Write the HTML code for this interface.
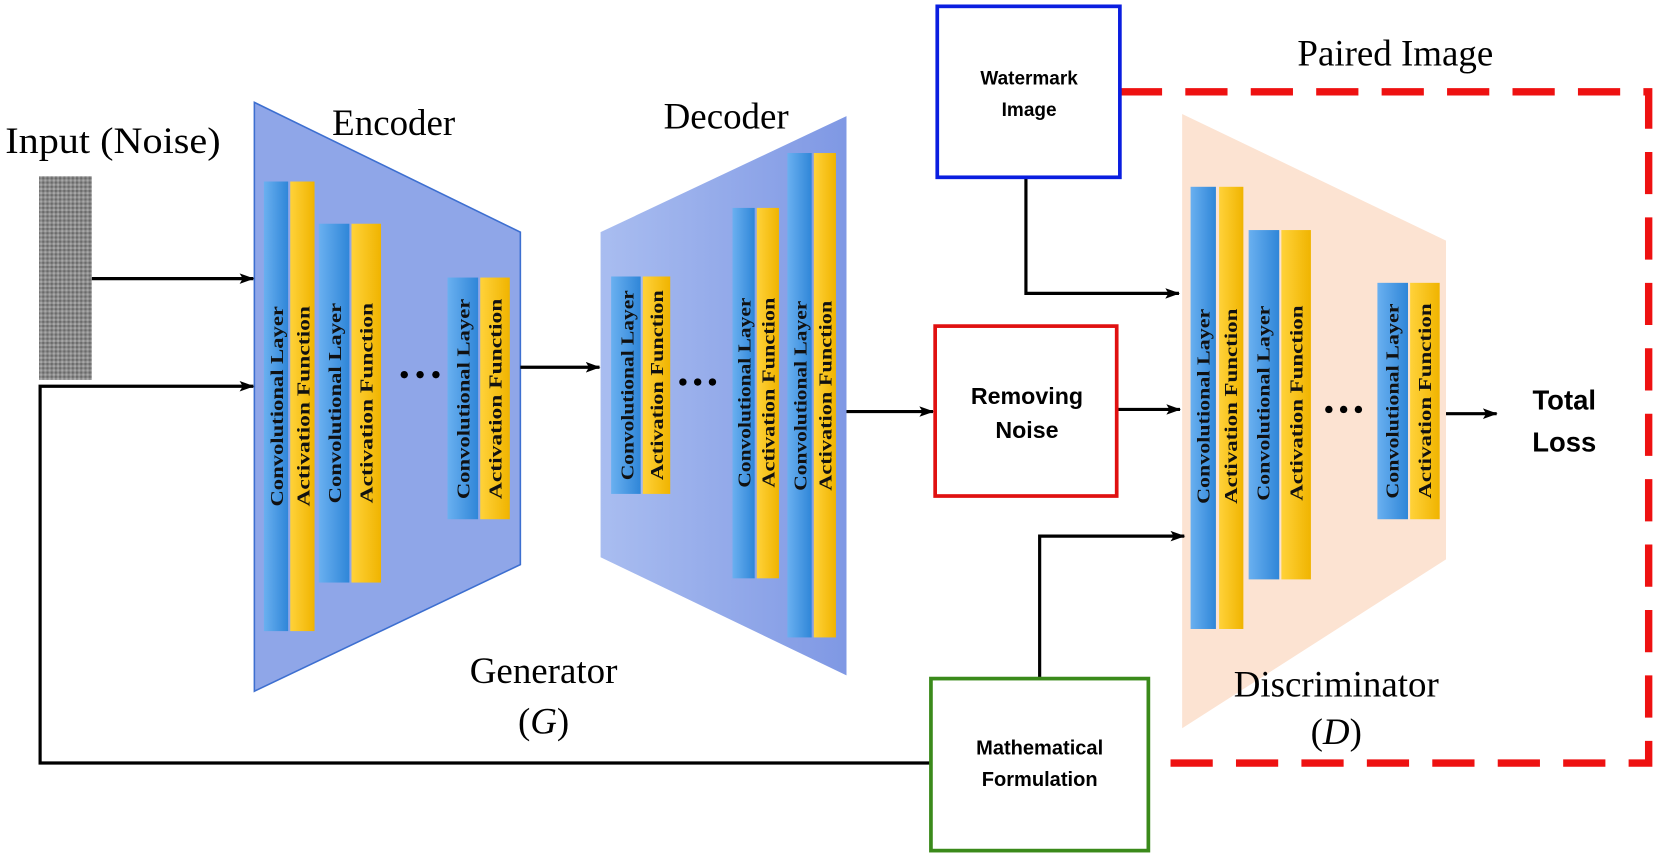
<!DOCTYPE html>
<html><head><meta charset="utf-8"><style>
html,body{margin:0;padding:0;background:#fff;}
svg{display:block;}
.s{font-family:"Liberation Serif",serif;}
.b{font-family:"Liberation Sans",sans-serif;font-weight:bold;}
.bt{font-family:"Liberation Serif",serif;font-weight:bold;font-size:17px;fill:#111;}
</style></head><body>
<svg width="1655" height="858" viewBox="0 0 1568 813" preserveAspectRatio="none" xmlns="http://www.w3.org/2000/svg">
<defs>
<marker id="a" markerWidth="14" markerHeight="12" refX="13" refY="6" orient="auto" markerUnits="userSpaceOnUse" viewBox="0 0 14 12"><path d="M0,1 L14,6 L0,11 L3,6 Z" fill="#000"/></marker>
<linearGradient id="bl" x1="0" x2="1"><stop offset="0" stop-color="#6ab0f0"/><stop offset="1" stop-color="#2f86d8"/></linearGradient>
<linearGradient id="yl" x1="0" x2="1"><stop offset="0" stop-color="#ffd23a"/><stop offset="1" stop-color="#f0b400"/></linearGradient>
<linearGradient id="dec" x1="0" x2="1"><stop offset="0" stop-color="#a9bdf0"/><stop offset="1" stop-color="#7f98e4"/></linearGradient>
<pattern id="nz" width="4" height="4" patternUnits="userSpaceOnUse"><rect width="4" height="4" fill="#8a8a8a"/><rect width="2" height="2" fill="#6a6a6a"/><rect x="2" y="2" width="2" height="2" fill="#a8a8a8"/></pattern>
</defs>

<polygon points="241,97 493,220 493,535 241,655" fill="#8fa6e8" stroke="#3d6fd0" stroke-width="1.5"/>
<polygon points="569,220 802,110 802,640 569,528" fill="url(#dec)"/>
<polygon points="1120,108 1370,228 1370,530 1120,690" fill="#fce3d2"/>

<text class="s" x="107" y="145" font-size="35" text-anchor="middle" textLength="204" lengthAdjust="spacingAndGlyphs">Input (Noise)</text>
<text class="s" x="373" y="128" font-size="35" text-anchor="middle">Encoder</text>
<text class="s" x="688" y="122" font-size="35" text-anchor="middle">Decoder</text>
<text class="s" x="1322" y="62" font-size="35" text-anchor="middle">Paired Image</text>
<text class="s" x="515" y="647" font-size="35" text-anchor="middle">Generator</text>
<text class="s" x="515" y="695" font-size="35" text-anchor="middle">(<tspan font-style="italic">G</tspan>)</text>
<text class="s" x="1266" y="660" font-size="35" text-anchor="middle">Discriminator</text>
<text class="s" x="1266" y="705" font-size="35" text-anchor="middle">(<tspan font-style="italic">D</tspan>)</text>

<rect x="37" y="167" width="50" height="193" fill="url(#nz)"/>

<g>
<rect x="250" y="172" width="23" height="426" fill="url(#bl)"/><rect x="275" y="172" width="23" height="426" fill="url(#yl)"/>
<text class="bt" transform="translate(268,385) rotate(-90)" text-anchor="middle" textLength="190" lengthAdjust="spacingAndGlyphs">Convolutional Layer</text>
<text class="bt" transform="translate(293,385) rotate(-90)" text-anchor="middle" textLength="190" lengthAdjust="spacingAndGlyphs">Activation Function</text>
<rect x="302" y="212" width="29" height="340" fill="url(#bl)"/><rect x="333" y="212" width="28" height="340" fill="url(#yl)"/>
<text class="bt" transform="translate(323,382) rotate(-90)" text-anchor="middle" textLength="190" lengthAdjust="spacingAndGlyphs">Convolutional Layer</text>
<text class="bt" transform="translate(353,382) rotate(-90)" text-anchor="middle" textLength="190" lengthAdjust="spacingAndGlyphs">Activation Function</text>
<rect x="424" y="263" width="29" height="229" fill="url(#bl)"/><rect x="455" y="263" width="28" height="229" fill="url(#yl)"/>
<text class="bt" transform="translate(445,378) rotate(-90)" text-anchor="middle" textLength="190" lengthAdjust="spacingAndGlyphs">Convolutional Layer</text>
<text class="bt" transform="translate(475,378) rotate(-90)" text-anchor="middle" textLength="190" lengthAdjust="spacingAndGlyphs">Activation Function</text>
<circle cx="383" cy="355" r="3.5"/><circle cx="398" cy="355" r="3.5"/><circle cx="413" cy="355" r="3.5"/>

<rect x="579" y="262" width="28" height="206" fill="url(#bl)"/><rect x="609" y="262" width="26" height="206" fill="url(#yl)"/>
<text class="bt" transform="translate(600,365) rotate(-90)" text-anchor="middle" textLength="180" lengthAdjust="spacingAndGlyphs">Convolutional Layer</text>
<text class="bt" transform="translate(628,365) rotate(-90)" text-anchor="middle" textLength="180" lengthAdjust="spacingAndGlyphs">Activation Function</text>
<rect x="694" y="197" width="21" height="351" fill="url(#bl)"/><rect x="717" y="197" width="21" height="351" fill="url(#yl)"/>
<text class="bt" transform="translate(711,372) rotate(-90)" text-anchor="middle" textLength="180" lengthAdjust="spacingAndGlyphs">Convolutional Layer</text>
<text class="bt" transform="translate(734,372) rotate(-90)" text-anchor="middle" textLength="180" lengthAdjust="spacingAndGlyphs">Activation Function</text>
<rect x="746" y="145" width="23" height="459" fill="url(#bl)"/><rect x="771" y="145" width="21" height="459" fill="url(#yl)"/>
<text class="bt" transform="translate(764,375) rotate(-90)" text-anchor="middle" textLength="180" lengthAdjust="spacingAndGlyphs">Convolutional Layer</text>
<text class="bt" transform="translate(788,375) rotate(-90)" text-anchor="middle" textLength="180" lengthAdjust="spacingAndGlyphs">Activation Function</text>
<circle cx="647" cy="362" r="3.5"/><circle cx="661" cy="362" r="3.5"/><circle cx="675" cy="362" r="3.5"/>

<rect x="1128" y="177" width="24" height="419" fill="url(#bl)"/><rect x="1155" y="177" width="23" height="419" fill="url(#yl)"/>
<text class="bt" transform="translate(1146,385) rotate(-90)" text-anchor="middle" textLength="185" lengthAdjust="spacingAndGlyphs">Convolutional Layer</text>
<text class="bt" transform="translate(1172,385) rotate(-90)" text-anchor="middle" textLength="185" lengthAdjust="spacingAndGlyphs">Activation Function</text>
<rect x="1183" y="218" width="29" height="331" fill="url(#bl)"/><rect x="1214" y="218" width="28" height="331" fill="url(#yl)"/>
<text class="bt" transform="translate(1203,382) rotate(-90)" text-anchor="middle" textLength="185" lengthAdjust="spacingAndGlyphs">Convolutional Layer</text>
<text class="bt" transform="translate(1234,382) rotate(-90)" text-anchor="middle" textLength="185" lengthAdjust="spacingAndGlyphs">Activation Function</text>
<rect x="1305" y="268" width="29" height="224" fill="url(#bl)"/><rect x="1336" y="268" width="28" height="224" fill="url(#yl)"/>
<text class="bt" transform="translate(1325,380) rotate(-90)" text-anchor="middle" textLength="185" lengthAdjust="spacingAndGlyphs">Convolutional Layer</text>
<text class="bt" transform="translate(1356,380) rotate(-90)" text-anchor="middle" textLength="185" lengthAdjust="spacingAndGlyphs">Activation Function</text>
<circle cx="1259" cy="388" r="3.5"/><circle cx="1273" cy="388" r="3.5"/><circle cx="1287" cy="388" r="3.5"/>
</g>

<path d="M1061,87 L1562,87 L1562,723 L1088,723" fill="none" stroke="#ee1111" stroke-width="7" stroke-dasharray="40,22"/>

<g stroke="#000" stroke-width="3" fill="none">
<line x1="87" y1="264" x2="240" y2="264" marker-end="url(#a)"/>
<polyline points="883,723 38,723 38,366 240,366" marker-end="url(#a)"/>
<line x1="493" y1="348" x2="568" y2="348" marker-end="url(#a)"/>
<line x1="802" y1="390" x2="884" y2="390" marker-end="url(#a)"/>
<line x1="1058" y1="388" x2="1118" y2="388" marker-end="url(#a)"/>
<polyline points="972,168 972,278 1117,278" marker-end="url(#a)"/>
<polyline points="985,643 985,508 1122,508" marker-end="url(#a)"/>
<line x1="1370" y1="392" x2="1418" y2="392" marker-end="url(#a)"/>
</g>

<rect x="888" y="6" width="173" height="162" fill="#fff" stroke="#0a1ee0" stroke-width="3.5"/>
<text class="b" x="975" y="80" font-size="18" text-anchor="middle">Watermark</text>
<text class="b" x="975" y="110" font-size="18" text-anchor="middle">Image</text>
<rect x="886" y="309" width="172" height="161" fill="#fff" stroke="#e01010" stroke-width="3.5"/>
<text class="b" x="973" y="383" font-size="22" text-anchor="middle">Removing</text>
<text class="b" x="973" y="415" font-size="22" text-anchor="middle">Noise</text>
<rect x="882" y="643" width="206" height="163" fill="#fff" stroke="#3a8a1a" stroke-width="3.5"/>
<text class="b" x="985" y="715" font-size="19" text-anchor="middle">Mathematical</text>
<text class="b" x="985" y="745" font-size="19" text-anchor="middle">Formulation</text>

<text class="b" x="1482" y="388" font-size="26" text-anchor="middle">Total</text>
<text class="b" x="1482" y="428" font-size="26" text-anchor="middle">Loss</text>
</svg>
</body></html>
